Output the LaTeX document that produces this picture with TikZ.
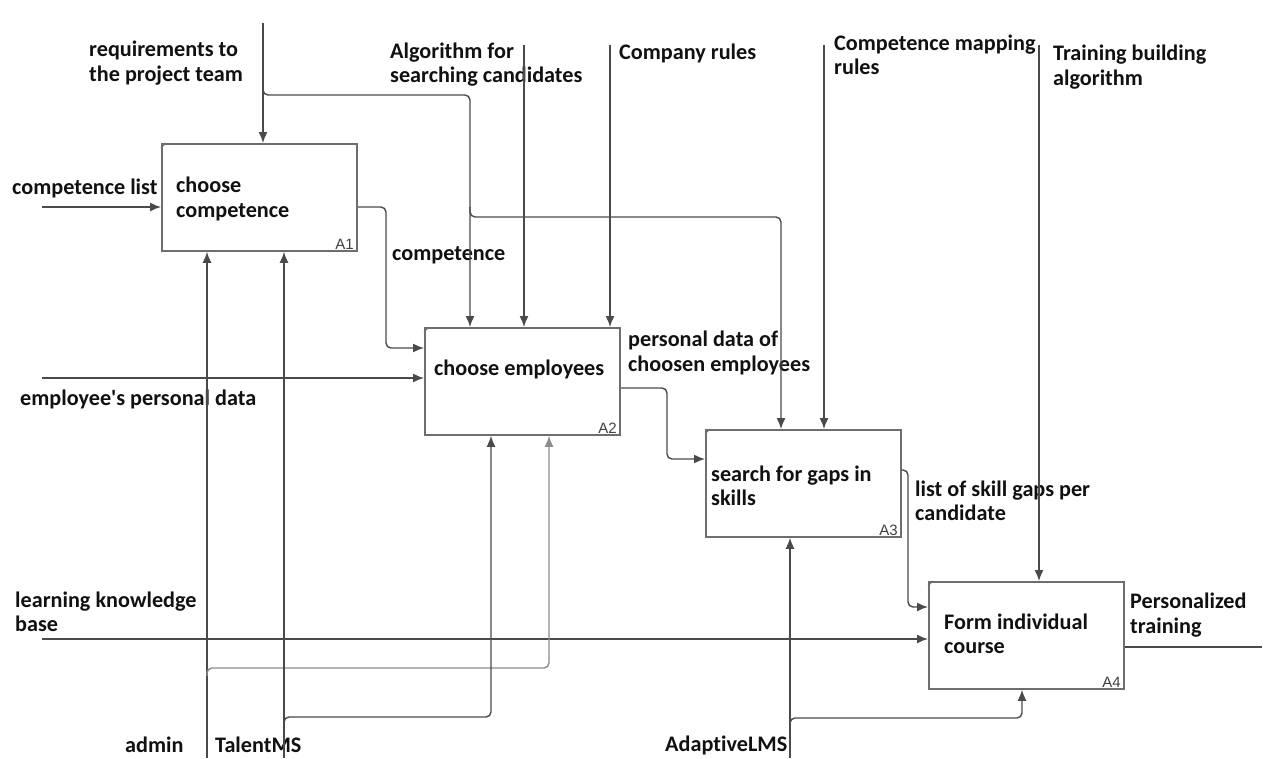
\documentclass[tikz,border=0pt]{standalone}
\usepackage{fontspec}
\setmainfont{Carlito}[Ligatures=NoCommon]
\newfontfamily\idfont{Liberation Sans}
\usetikzlibrary{arrows.meta}
\definecolor{ink}{HTML}{111111}
\definecolor{wire}{HTML}{4A4A4A}
\definecolor{frame}{HTML}{6E6E6E}
\begin{document}
\begin{tikzpicture}[x=1pt,y=-1pt,
  actbox/.style={draw=frame,line width=1.8pt,minimum width=195pt,minimum height=107pt,anchor=north west,inner sep=0pt},
  lbl/.style={text=ink,font=\fontsize{22.2}{24.5}\selectfont\bfseries,inner sep=0pt,anchor=west,align=left},
  boxid/.style={text=black!75,font=\idfont\fontsize{15}{15}\selectfont,inner sep=0pt,anchor=south east},
  flow/.style={draw=wire,line width=1.4pt,rounded corners=5pt},
  arr/.style={flow,-{Latex[length=11pt,width=9pt]}}]
\useasboundingbox[fill=white] (0,0) rectangle (1264,758);

% activity boxes
\node[actbox] (a1) at (161,143) {};
\node[actbox] (a2) at (424,327) {};
\node[actbox] (a3) at (705,429) {};
\node[actbox] (a4) at (928,581) {};
\foreach \b in {a1,a2,a3,a4}
  \draw[frame,line width=0.8pt] ([yshift=-5pt]\b.north west) -- ([xshift=5pt]\b.north west);
\node[boxid] (a1id) at ([xshift=-4pt,yshift=2pt]a1.south east) {A1};
\node[boxid] (a2id) at ([xshift=-4pt,yshift=2pt]a2.south east) {A2};
\node[boxid] (a3id) at ([xshift=-4pt,yshift=2pt]a3.south east) {A3};
\node[boxid] (a4id) at ([xshift=-4pt,yshift=2pt]a4.south east) {A4};

% activity names
\node[lbl] (t1) at (176,199) {choose\\competence};
\node[lbl] (t2) at (434,369) {choose employees};
\node[lbl] (t3) at (711,486) {search for gaps in\\skills};
\node[lbl] (t4) at (944,634) {Form individual\\course};

% arrow labels
\node[lbl] (lreq) at (89,63) {requirements to\\the project team};
\node[lbl] (lalg) at (390,64.5) {Algorithm for\\searching candidates};
\node[lbl] (lcr) at (619,53) {Company rules};
\node[lbl] (lcmr) at (834,55) {Competence mapping\\rules};
\node[lbl] (ltba) at (1053,67) {Training building\\algorithm};
\node[lbl] (lcl) at (12,188) {competence list};
\node[lbl] (lcomp) at (392,255) {competence};
\node[lbl] (lpd) at (628,353) {personal data of\\choosen employees};
\node[lbl] (lepd) at (20,399) {employee\textquotesingle s personal data};
\node[lbl] (lsg) at (915,501) {list of skill gaps per\\candidate};
\node[lbl] (llkb) at (15,612) {learning knowledge\\base};
\node[lbl] (lpt) at (1130,615) {Personalized\\training};
\node[lbl] (ladm) at (125,745) {admin};
\node[lbl] (ltal) at (215,745) {TalentMS};
\node[lbl] (lalms) at (665,745) {AdaptiveLMS};

% free ends of the boundary arrows
\coordinate (reqTop) at (263,23);
\coordinate (reqSplit) at (263,95);
\coordinate (reqBend) at (470,95);
\coordinate (reqFork) at (470,217);
\coordinate (reqA3) at (781,217);
\coordinate (algTop) at (524,45);
\coordinate (crTop) at (610,45);
\coordinate (cmrTop) at (824,45);
\coordinate (tbaTop) at (1039,45);
\coordinate (clIn) at (42,207);
\coordinate (epdIn) at (42,378);
\coordinate (lkbIn) at (42,639);
\coordinate (ptOut) at (1262,647);
\coordinate (admBot) at (207,758);
\coordinate (admFork) at (207,668);
\coordinate (admA2) at (549,668);
\coordinate (talBot) at (284,758);
\coordinate (talFork) at (284,717);
\coordinate (talA2) at (491,717);
\coordinate (almsBot) at (790,758);
\coordinate (almsFork) at (790,718);
\coordinate (almsA4) at (1022,718);

% controls (from above)
\draw[arr] (reqTop) -- (a1.north -| reqTop);
\draw[arr] ([yshift=8pt]reqSplit) -- (reqSplit) -- (reqBend) -- (a2.north -| reqBend);
\draw[arr] ([yshift=10pt]reqFork) -- (reqFork) -- (reqA3) -- (a3.north -| reqA3);
\draw[arr] (algTop) -- (a2.north -| algTop);
\draw[arr] (crTop) -- (a2.north -| crTop);
\draw[arr] (cmrTop) -- (a3.north -| cmrTop);
\draw[arr] (tbaTop) -- (a4.north -| tbaTop);

% inputs and internal flows
\draw[arr] (clIn) -- (a1.west |- clIn);
\draw[arr] (a1.east |- clIn) -- (386,207) -- (386,348) -- (a2.west |- 0,348);
\draw[arr] (epdIn) -- (a2.west |- epdIn);
\draw[arr] (a2.east |- 0,388) -- (667,388) -- (667,459) -- (a3.west |- 0,459);
\draw[arr] (a3.east |- 0,470) -- (908,470) -- (908,607) -- (a4.west |- 0,607);
\draw[arr] (lkbIn) -- (a4.west |- lkbIn);
\draw[flow] (a4.east |- ptOut) -- (ptOut);

% mechanisms (from below)
\draw[arr] (admBot) -- (a1.south -| admBot);
\draw[arr,draw=black!45] ([yshift=-8pt]admFork) -- (admFork) -- (admA2) -- (a2.south -| admA2);
\draw[arr] (talBot) -- (a1.south -| talBot);
\draw[arr] ([yshift=-8pt]talFork) -- (talFork) -- (talA2) -- (a2.south -| talA2);
\draw[arr] (almsBot) -- (a3.south -| almsBot);
\draw[arr] ([yshift=-8pt]almsFork) -- (almsFork) -- (almsA4) -- (a4.south -| almsA4);
\end{tikzpicture}
\end{document}
